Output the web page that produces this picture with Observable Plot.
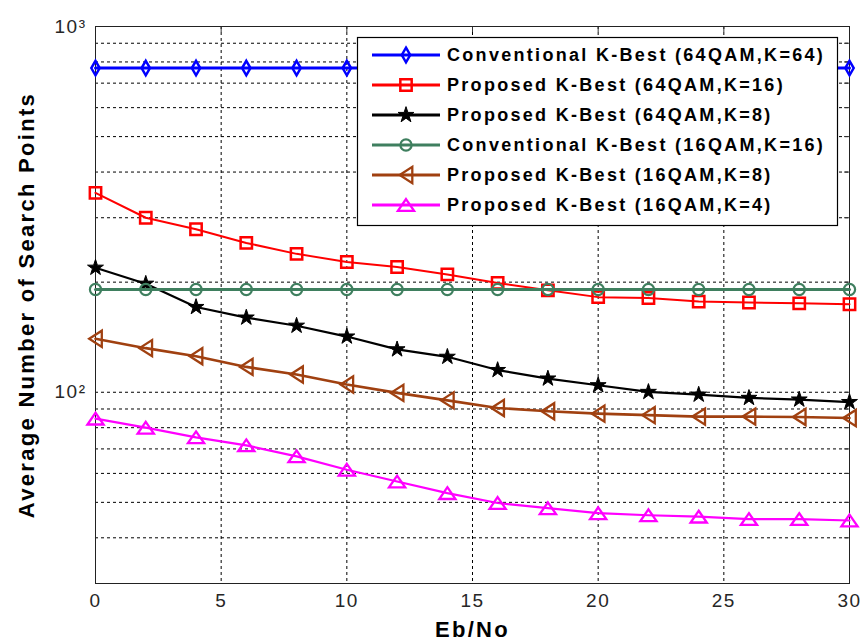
<!DOCTYPE html>
<html><head><meta charset="utf-8">
<script src="https://cdn.jsdelivr.net/npm/d3@7"></script>
<script src="https://cdn.jsdelivr.net/npm/@observablehq/plot@0.6"></script>
<style>
body{margin:0;background:#fff;}
#chart{position:relative;width:862px;height:642px;}
#chart svg text{font-family:"Liberation Sans",Arial,sans-serif;}
g[aria-label="x-axis tick label"] text, g[aria-label="y-axis tick label"] text{letter-spacing:1.5px;}
g[aria-label="text"] text{letter-spacing:2.3px;}
</style></head>
<body><div id="chart"></div>
<script>
// ---- data ----
const ebno = [0, 2, 4, 6, 8, 10, 12, 14, 16, 18, 20, 22, 24, 26, 28, 30];
const conv64qamK64 = [770, 770, 770, 770, 770, 770, 770, 770, 770, 770, 770, 770, 770, 770, 770, 770];
const prop64qamK16 = [351, 300, 279, 256, 239, 227, 220, 210, 199, 190, 182, 181, 177, 176, 175, 174];
const prop64qamK8  = [219, 198, 171, 160, 152, 142, 131, 125, 115, 109, 104.5, 100.2, 98.5, 96.5, 95.5, 94];
const conv16qamK16 = [191, 191, 191, 191, 191, 191, 191, 191, 191, 191, 191, 191, 191, 191, 191, 191];
const prop16qamK8  = [140, 132, 125.5, 117.3, 111.8, 105, 99.6, 95, 90.6, 88.7, 87.4, 86.6, 85.8, 85.8, 85.6, 85];
const prop16qamK4  = [84.7, 80, 75.3, 71.6, 66.8, 61.4, 57, 53, 49.8, 48.2, 46.7, 46.1, 45.7, 45, 45, 44.6];

const seriesNames = [
  "Conventional K-Best (64QAM,K=64)",
  "Proposed K-Best (64QAM,K=16)",
  "Proposed K-Best (64QAM,K=8)",
  "Conventional K-Best (16QAM,K=16)",
  "Proposed K-Best (16QAM,K=8)",
  "Proposed K-Best (16QAM,K=4)"
];
const seriesValues = [conv64qamK64, prop64qamK16, prop64qamK8, conv16qamK16, prop16qamK8, prop16qamK4];
const seriesColors = ["#0000ff", "#ff0000", "#000000", "#3f7f5f", "#a04010", "#ff00ff"];

const xTicks = [0, 5, 10, 15, 20, 25, 30];
const xGridTicks = [5, 10, 15, 20, 25];
const yLabelTicks = [100, 1000];
const yLabelText = ["10\u00b2", "10\u00b3"];
const yGridTicks = [40, 50, 60, 70, 80, 90, 100, 200, 300, 400, 500, 600, 700, 800, 900];
const xLabel = "Eb/No";
const yLabel = "Average Number of Search Points";

// ---- styles ----
const triUp = {draw(ctx, size){ const s = Math.sqrt(size / Math.PI); const w = s * 1.35, h = s * 0.98;
  ctx.moveTo(0, -h); ctx.lineTo(w, h); ctx.lineTo(-w, h); ctx.closePath(); }};
const triLeft = {draw(ctx, size){ const s = Math.sqrt(size / Math.PI); const w = s * 1.35, h = s * 1.05;
  ctx.moveTo(-h, 0); ctx.lineTo(h, -w); ctx.lineTo(h, w); ctx.closePath(); }};
const styles = [
  {symbol: d3.symbolDiamond, r: 4.4, fill: "none", lineW: 3, markW: 2.5},
  {symbol: d3.symbolSquare, r: 6.4, fill: "none", lineW: 2, markW: 2.5},
  {symbol: d3.symbolStar, r: 5, fill: "black", lineW: 2.2, markW: 1},
  {symbol: d3.symbolCircle, r: 5.6, fill: "none", lineW: 3, markW: 2.2},
  {symbol: triLeft, r: 6, fill: "none", lineW: 2.6, markW: 2.3},
  {symbol: triUp, r: 6, fill: "none", lineW: 2.2, markW: 2.3}
];

const rows = seriesValues.map(vals => ebno.map((x, i) => ({x, y: vals[i]})));

const marks = [
  Plot.gridX({ticks: xGridTicks, stroke: "black", strokeOpacity: 1, strokeDasharray: "3,3"}),
  Plot.gridY({ticks: yGridTicks, stroke: "black", strokeOpacity: 1, strokeDasharray: "3,3"}),
  Plot.axisX({ticks: xTicks, tickSize: 0, tickPadding: 10, fontSize: 19, label: null, color: "#262626"}),
  Plot.axisY({ticks: yLabelTicks, tickFormat: d => yLabelText[yLabelTicks.indexOf(d)], tickSize: 0, tickPadding: 9, fontSize: 19, label: null, color: "#262626"}),
  Plot.axisX({anchor: "top", ticks: xTicks, tickSize: -5, tickFormat: () => "", label: null, color: "#333"}),
  Plot.axisY({anchor: "right", ticks: yGridTicks, tickSize: -6, tickFormat: () => "", label: null, color: "#333"}),
  Plot.frame({stroke: "#222"}),
  Plot.text([xLabel], {text: d => d, frameAnchor: "bottom", textAnchor: "middle", lineAnchor: "middle", dy: 46, fontSize: 22, fontWeight: "bold", fill: "black"}),
  Plot.text([yLabel], {text: d => d, frameAnchor: "left", textAnchor: "middle", lineAnchor: "middle", rotate: -90, dx: -69, fontSize: 22, fontWeight: "bold", fill: "black"})
];
rows.forEach((data, i) => {
  const st = styles[i];
  marks.push(Plot.line(data, {x: "x", y: "y", stroke: seriesColors[i], strokeWidth: st.lineW}));
  marks.push(Plot.dot(data, {x: "x", y: "y", stroke: seriesColors[i], fill: st.fill === "none" ? "none" : seriesColors[i],
    symbol: st.symbol, r: st.r, strokeWidth: st.markW}));
});

const chart = Plot.plot({
  width: 862, height: 642,
  marginLeft: 95, marginRight: 13, marginTop: 26, marginBottom: 59,
  x: {domain: [0, 30]},
  y: {type: "log", domain: [30, 1000]},
  style: {fontFamily: "Liberation Sans, Arial, sans-serif", background: "white"},
  marks
});
const container = document.getElementById("chart");
container.appendChild(chart);

// ---- legend (overlay inside the axes) ----
const leg = d3.create("svg").attr("width", 483).attr("height", 191)
  .style("position", "absolute").style("left", "356px").style("top", "36px");
leg.append("rect").attr("x", 1.5).attr("y", 1.5).attr("width", 480).attr("height", 188)
  .attr("fill", "white").attr("stroke", "black").attr("stroke-width", 1.2);
seriesNames.forEach((name, i) => {
  const cy = 19 + i * 30, st = styles[i], c = seriesColors[i];
  leg.append("line").attr("x1", 16).attr("x2", 84).attr("y1", cy).attr("y2", cy)
    .attr("stroke", c).attr("stroke-width", 3);
  leg.append("path").attr("d", d3.symbol(st.symbol, Math.PI * st.r * st.r)())
    .attr("transform", `translate(50,${cy})`)
    .attr("fill", st.fill === "none" ? "none" : c).attr("stroke", c).attr("stroke-width", st.markW);
  leg.append("text").attr("x", 91).attr("y", cy).attr("dy", "0.35em")
    .attr("font-family", "Liberation Sans, Arial, sans-serif").attr("font-size", 18).attr("font-weight", "bold")
    .attr("letter-spacing", "2.3px").attr("fill", "black").text(name);
});
container.appendChild(leg.node());
</script>
</body></html>
